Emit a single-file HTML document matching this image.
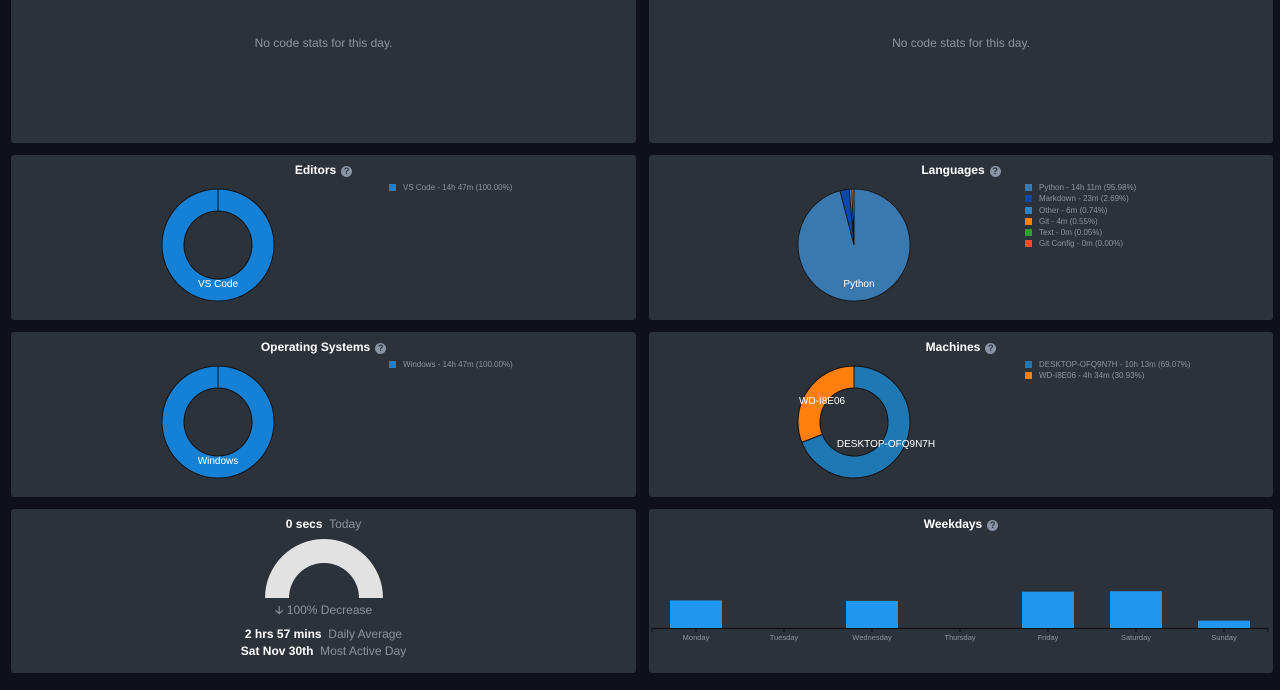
<!DOCTYPE html>
<html><head><meta charset="utf-8"><style>
html,body{margin:0;padding:0;background:#0e1117;width:1280px;height:690px;overflow:hidden;font-family:"Liberation Sans",sans-serif}
.p{position:absolute;background:#2c323a;border-radius:3px}
.t{position:absolute;left:0;right:0;text-align:center;color:#fff;font-weight:bold;font-size:12px}
.q{display:inline-block;width:11px;height:11px;border-radius:50%;background:#8894a6;color:#2c323a;font-size:9px;line-height:11px;margin-left:5px;vertical-align:0px}
.leg{position:absolute;font-size:8px;color:#8a939e;line-height:11.3px}
.leg i{display:inline-block;width:7px;height:7px;margin-right:7px;vertical-align:-1px}
.nc{position:absolute;left:0;right:0;top:37px;text-align:center;color:#8c949d;font-size:12px}
</style></head><body>
<div class="p" style="left:11px;top:-4px;width:625px;height:147px"><div class="nc" style="top:40px">No code stats for this day.</div></div>
<div class="p" style="left:649px;top:-4px;width:624px;height:147px"><div class="nc" style="top:40px">No code stats for this day.</div></div>

<div class="p" style="left:11px;top:155px;width:625px;height:165px">
<div class="t" style="top:8px">Editors<span class="q">?</span></div>
<div class="leg" style="left:378px;top:27px"><div><i style="background:#1581d6"></i>VS Code - 14h 47m (100.00%)</div></div>
</div>
<div class="p" style="left:649px;top:155px;width:624px;height:165px">
<div class="t" style="top:8px">Languages<span class="q">?</span></div>
<div class="leg" style="left:376px;top:27px">
<div><i style="background:#3a78b0"></i>Python - 14h 11m (95.98%)</div>
<div><i style="background:#0f47a8"></i>Markdown - 23m (2.69%)</div>
<div><i style="background:#2e86c8"></i>Other - 6m (0.74%)</div>
<div><i style="background:#ff7f0e"></i>Git - 4m (0.55%)</div>
<div><i style="background:#2ca02c"></i>Text - 0m (0.05%)</div>
<div><i style="background:#f0502a"></i>Git Config - 0m (0.00%)</div></div>
</div>
<div class="p" style="left:11px;top:332px;width:625px;height:165px">
<div class="t" style="top:8px">Operating Systems<span class="q">?</span></div>
<div class="leg" style="left:378px;top:27px"><div><i style="background:#1581d6"></i>Windows - 14h 47m (100.00%)</div></div>
</div>
<div class="p" style="left:649px;top:332px;width:624px;height:165px">
<div class="t" style="top:8px">Machines<span class="q">?</span></div>
<div class="leg" style="left:376px;top:27px">
<div><i style="background:#1f77b4"></i>DESKTOP-OFQ9N7H - 10h 13m (69.07%)</div>
<div><i style="background:#ff7f0e"></i>WD-I8E06 - 4h 34m (30.93%)</div></div>
</div>
<div class="p" style="left:11px;top:509px;width:625px;height:164px">
<div style="position:absolute;left:0;right:0;top:8px;text-align:center;font-size:12px;color:#fff;font-weight:bold">0 secs <span style="color:#8c949d;font-weight:normal">&nbsp;Today</span></div>
<div style="position:absolute;left:0;right:0;top:92px;text-align:center;font-size:12px;color:#8c949d">🡫 100% Decrease</div>
<div style="position:absolute;left:0;right:0;top:118px;text-align:center;font-size:12px;color:#fff;font-weight:bold">2 hrs 57 mins <span style="color:#8c949d;font-weight:normal">&nbsp;Daily Average</span></div>
<div style="position:absolute;left:0;right:0;top:135px;text-align:center;font-size:12px;color:#fff;font-weight:bold">Sat Nov 30th <span style="color:#8c949d;font-weight:normal">&nbsp;Most Active Day</span></div>
</div>
<div class="p" style="left:649px;top:509px;width:624px;height:164px">
<div class="t" style="top:8px">Weekdays<span class="q">?</span></div>
</div>

<svg id="s" width="1280" height="690" style="position:absolute;left:0;top:0"></svg>
<script>
const editorNames=["VS Code"], editorVals=[100];
const osNames=["Windows"], osVals=[100];
const langNames=["Python","Markdown","Other","Git","Text","Git Config"];
const langVals=[95.98,2.69,0.74,0.55,0.05,0.001];
const langColors=["#3a78b0","#0f47a8","#2e86c8","#ff7f0e","#2ca02c","#f0502a"];
const machineNames=["DESKTOP-OFQ9N7H","WD-I8E06"], machineVals=[69.07,30.93];
const dayNames=["Monday","Tuesday","Wednesday","Thursday","Friday","Saturday","Sunday"];
const dayHours=[3.0,0,2.95,0,3.95,4.0,0.8];
const gaugeToday=[0], gaugeAvg=[2.95];

const S=document.getElementById('s'),NS="http://www.w3.org/2000/svg";
function mk(t,a){const e=document.createElementNS(NS,t);for(const k in a)e.setAttribute(k,a[k]);S.appendChild(e);return e;}
function arc(cx,cy,ro,ri,a0,a1){
 const p=(r,a)=>[cx+r*Math.sin(a),cy-r*Math.cos(a)];
 if(a1-a0>=2*Math.PI-1e-6){a1=a0+2*Math.PI-1e-4;}
 const lg=(a1-a0)>Math.PI?1:0;
 const [x0,y0]=p(ro,a0),[x1,y1]=p(ro,a1);
 if(ri<=0)return `M${cx},${cy}L${x0},${y0}A${ro},${ro} 0 ${lg} 1 ${x1},${y1}Z`;
 const [x2,y2]=p(ri,a1),[x3,y3]=p(ri,a0);
 return `M${x0},${y0}A${ro},${ro} 0 ${lg} 1 ${x1},${y1}L${x2},${y2}A${ri},${ri} 0 ${lg} 0 ${x3},${y3}Z`;}
function pie(name,names,vals,colors,cx,cy,ro,ri,sw){
 const tot=vals.reduce((a,b)=>a+b,0);let a=0;
 vals.forEach((v,i)=>{const a1=a+v/tot*2*Math.PI;
  const e=mk('path',{d:arc(cx,cy,ro,ri,a,a1),fill:colors[i],stroke:'#111',"stroke-width":sw||1});
  
  
  a=a1;});}
pie('editors',editorNames,editorVals,["#1581d6"],218,245,56,34);
mk('text',{x:218,y:287,fill:'#fff','font-size':10,'text-anchor':'middle'}).textContent=editorNames[0];
pie('os',osNames,osVals,["#1581d6"],218,422,56,34);
mk('text',{x:218,y:464,fill:'#fff','font-size':10,'text-anchor':'middle'}).textContent=osNames[0];
pie('languages',langNames,langVals,langColors,854,245,56,0,0.8);
mk('text',{x:859,y:287,fill:'#fff','font-size':10,'text-anchor':'middle'}).textContent=langNames[0];
pie('machines',machineNames,machineVals,["#1f77b4","#ff7f0e"],854,422,56,34);
mk('text',{x:886,y:447,fill:'#fff','font-size':10,'text-anchor':'middle'}).textContent=machineNames[0];
mk('text',{x:822,y:404,fill:'#fff','font-size':10,'text-anchor':'middle'}).textContent=machineNames[1];
(function(){const g=mk('path',{d:arc(324,598,59,35,-Math.PI/2,Math.PI/2),fill:'#e2e2e2'});
 
 const f=gaugeToday[0]/gaugeAvg[0];if(f>0){const e=mk('path',{d:arc(324,598,59,35,-Math.PI/2,-Math.PI/2+Math.PI*Math.min(f,1)),fill:'#1581d6'});}})();
(function(){const x0=652,x1=1268,base=628,bw=(x1-x0)/dayNames.length,max=4.35;
 const y=v=>base-v/max*40;
 const ax=mk('line',{x1:x0,x2:x1,y1:base+0.5,y2:base+0.5,stroke:'#111','stroke-width':1.2});
 
 mk('line',{x1:x0,x2:x0,y1:base,y2:base+4,stroke:'#111'});mk('line',{x1:x1,x2:x1,y1:base,y2:base+4,stroke:'#111'});
 dayNames.forEach((d,i)=>{const cx=x0+bw*(i+0.5);
  if(dayHours[i]>0){const r=mk('rect',{x:cx-26,y:y(dayHours[i]),width:52,height:base-y(dayHours[i]),fill:'#2196ee'});
   }
  mk('line',{x1:cx,x2:cx,y1:base,y2:base+4,stroke:'#111'});
  const t=mk('text',{x:cx,y:base+12,fill:'#8a939e','font-size':7.5,'text-anchor':'middle'});t.textContent=d;
  });})();
</script>
</body></html>
